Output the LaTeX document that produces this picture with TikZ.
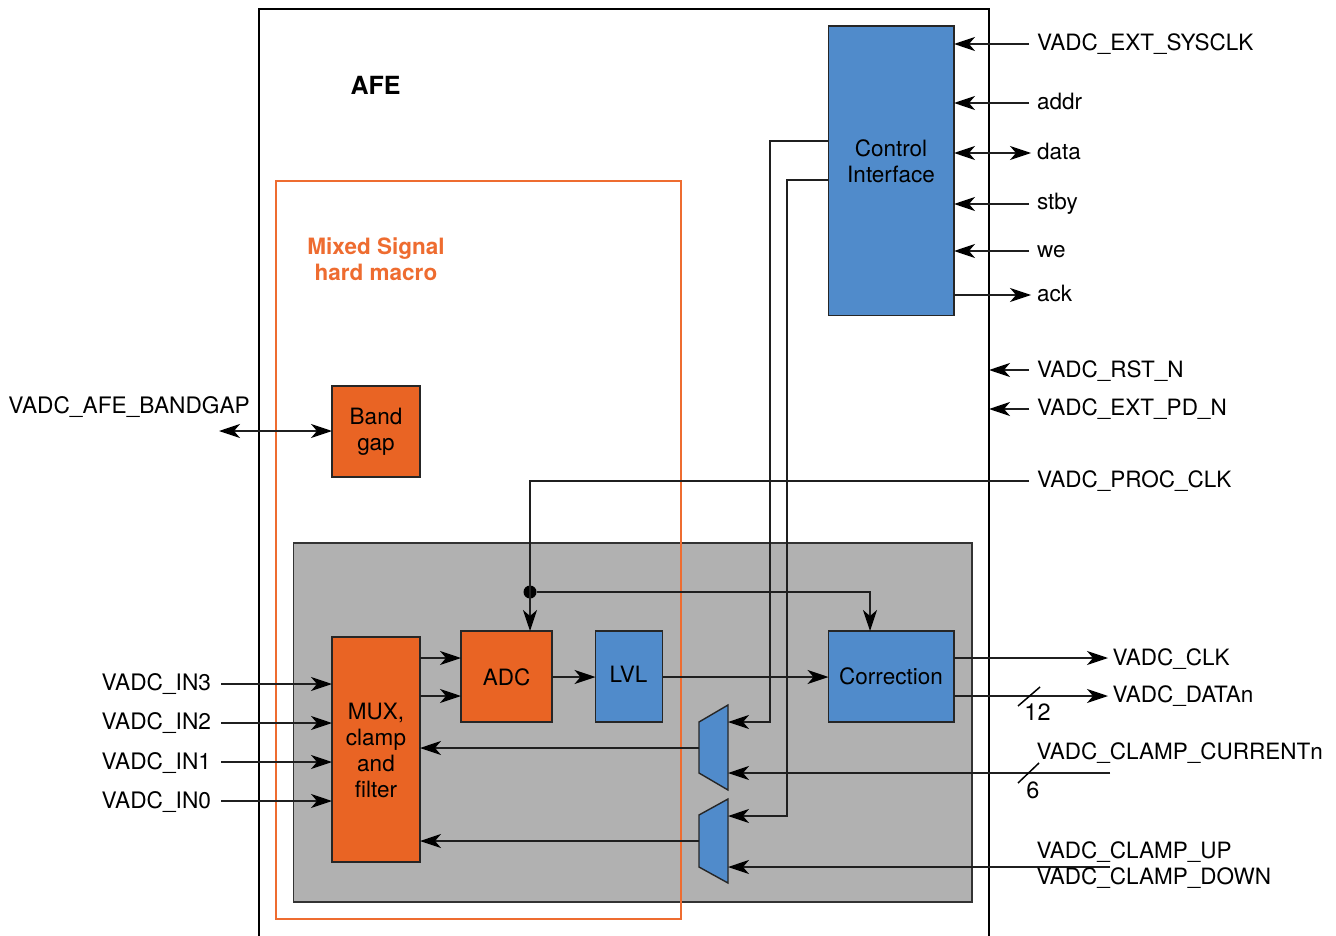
\documentclass[tikz,border=0pt]{standalone}
\usepackage{fontspec}
\setmainfont{TeX Gyre Heros}
\usetikzlibrary{arrows.meta}
\definecolor{blk}{HTML}{508BCB}
\definecolor{org}{HTML}{E96424}
\definecolor{orl}{HTML}{EE6C30}
\definecolor{gry}{HTML}{B1B1B1}
\tikzset{
  x=1pt,y=-1pt,
  every node/.style={font=\fontsize{22.5}{26}\selectfont,inner sep=0pt,outer sep=0pt},
  box/.style={draw=black!85,line width=1.4pt,align=center,anchor=north west},
  bluebox/.style={box,fill=blk},
  orangebox/.style={box,fill=org},
  lab/.style={anchor=base west},
  labr/.style={anchor=base east},
  wire/.style={draw=black!88,line width=1.3pt},
  arr/.style={wire,-{Stealth[length=21pt,width=14pt,inset=6pt,black]}},
  dbl/.style={wire,{Stealth[length=21pt,width=14pt,inset=6pt,black]}-{Stealth[length=21pt,width=14pt,inset=6pt,black]}},
  muxs/.style={draw=black!85,line width=1.4pt,fill=blk},
  anchorbox/.style={minimum width=29pt,minimum height=85pt,anchor=north west},
}
\begin{document}
\begin{tikzpicture}
\useasboundingbox (0,0) rectangle (1336,936);
% containers
\draw[black,line width=1.8pt] (259,936) -- (259,9) -- (989,9) -- (989,936);
\node[draw=black!80,line width=1.3pt,fill=gry,anchor=north west,minimum width=678.5pt,minimum height=359pt] (analog) at (293.5,543) {};
\node[draw=orl,line width=1.6pt,anchor=north west,minimum width=405pt,minimum height=738pt] (macro) at (276,181) {};
\node[font=\fontsize{25}{26}\selectfont\bfseries,anchor=center] (afe) at (375.5,85) {AFE};
\node[font=\fontsize{22.5}{26}\selectfont\bfseries,text=orl,align=center,anchor=center] (mst) at (376,259.5) {Mixed Signal\\hard macro};
% blocks
\node[bluebox,minimum width=125.5pt,minimum height=289.5pt] (ctrl) at (828.5,26) {};
\node[anchor=center,align=center] (ctrlt) at (891,161.5) {Control\\Interface};
\node[orangebox,minimum width=88pt,minimum height=91pt] (bg) at (332,386) {};
\node[anchor=center,align=center] (bgt) at (376,431.5) {Band\\gap};
\node[orangebox,minimum width=88pt,minimum height=225pt] (mx) at (332,637) {};
\node[anchor=center,align=center] (mxt) at (376,750) {MUX,\\clamp\\and\\filter};
\node[orangebox,minimum width=91pt,minimum height=91pt] (adc) at (461,631) {};
\node[anchor=center] (adct) at (506.5,677) {ADC};
\node[bluebox,minimum width=67pt,minimum height=91pt] (lvl) at (595.5,631) {};
\node[anchor=center] (lvlt) at (628.5,674) {LVL};
\node[bluebox,minimum width=125.5pt,minimum height=91pt] (cor) at (828.5,631) {};
\node[anchor=center] (cort) at (891,676.5) {Correction};
% muxes
\draw[muxs] (699,722) -- (728,705) -- (728,790) -- (699,773) -- cycle;
\draw[muxs] (699,815) -- (728,799) -- (728,883) -- (699,867) -- cycle;
\node[anchorbox] (ma) at (699,705) {};
\node[anchorbox] (mb) at (699,799) {};
% dot
\node[circle,fill=black,minimum size=13pt] (dot) at (530,592) {};
% free ends
\coordinate (eSys) at (1029,44);
\coordinate (eAddr) at (1029,103);
\coordinate (eData) at (1031,153);
\coordinate (eStby) at (1029,204);
\coordinate (eWe) at (1029,251);
\coordinate (eAck) at (1031,295);
\coordinate (eRst) at (1029,370);
\coordinate (ePd) at (1029,409);
\coordinate (ePrc) at (1029,481);
\coordinate (eClk) at (1108,658);
\coordinate (eDat) at (1108,696);
\coordinate (eCur) at (1110,773);
\coordinate (eUp) at (1110,867);
\coordinate (eBg) at (219,431);
\coordinate (i3) at (221,684);
\coordinate (i2) at (221,723);
\coordinate (i1) at (221,762);
\coordinate (i0) at (221,801);
\coordinate (wallR) at (989,0);
\coordinate (s1a) at (1018,706);
\coordinate (s1b) at (1040,687);
\coordinate (s2a) at (1018,783);
\coordinate (s2b) at (1039,763);
\coordinate (cA) at (828,141);
\coordinate (cB) at (828,180);
% connectors
\draw[arr] (eSys) -- (ctrl.east |- eSys);
\draw[arr] (eAddr) -- (ctrl.east |- eAddr);
\draw[dbl] (ctrl.east |- eData) -- (eData);
\draw[arr] (eStby) -- (ctrl.east |- eStby);
\draw[arr] (eWe) -- (ctrl.east |- eWe);
\draw[arr] (ctrl.east |- eAck) -- (eAck);
\draw[arr] (eRst) -- (wallR |- eRst);
\draw[arr] (ePd) -- (wallR |- ePd);
\draw[dbl] (eBg) -- (bg.west |- eBg);
\draw[arr] (i3) -- (mx.west |- i3);
\draw[arr] (i2) -- (mx.west |- i2);
\draw[arr] (i1) -- (mx.west |- i1);
\draw[arr] (i0) -- (mx.west |- i0);
\draw[arr] (ePrc) -- (dot |- ePrc) -- (dot |- adc.north);
\draw[arr] (dot) -- (870,592) -- (870,631);
\draw[arr] (mx.east |- 0,658) -- (adc.west |- 0,658);
\draw[arr] (mx.east |- 0,696) -- (adc.west |- 0,696);
\draw[arr] (adc.east |- 0,677) -- (lvl.west |- 0,677);
\draw[arr] (lvl.east |- 0,677) -- (cor.west |- 0,677);
\draw[arr] (cor.east |- eClk) -- (eClk);
\draw[arr] (cor.east |- eDat) -- (eDat);
\draw[arr] (ma.west |- 0,748) -- (mx.east |- 0,748);
\draw[arr] (mb.west |- 0,841) -- (mx.east |- 0,841);
\draw[arr] (eCur) -- (ma.east |- eCur);
\draw[arr] (eUp) -- (mb.east |- eUp);
\draw[arr] (cA) -- (770,141) -- (770,722) -- (ma.east |- 0,722);
\draw[arr] (cB) -- (787,180) -- (787,816) -- (mb.east |- 0,816);
\draw[wire,black,line width=1.5pt] (s1a) -- (s1b);
\draw[wire,black,line width=1.5pt] (s2a) -- (s2b);
% labels
\node[lab] (l1) at (1037,51) {VADC\_EXT\_SYSCLK};
\node[lab] (l2) at (1037,110) {addr};
\node[lab] (l3) at (1037,160) {data};
\node[lab] (l4) at (1037,210) {stby};
\node[lab] (l5) at (1037,258) {we};
\node[lab] (l6) at (1037,301) {ack};
\node[lab] (l7) at (1037,377) {VADC\_RST\_N};
\node[lab] (l8) at (1037,415.5) {VADC\_EXT\_PD\_N};
\node[lab] (l9) at (1037,487) {VADC\_PROC\_CLK};
\node[lab] (l10) at (1112.5,665) {VADC\_CLK};
\node[lab] (l11) at (1112.5,702) {VADC\_DATAn};
\node[lab] (l12) at (1036.5,759) {VADC\_CLAMP\_CURRENTn};
\node[lab] (l13) at (1036.5,858) {VADC\_CLAMP\_UP};
\node[lab] (l14) at (1036.5,884) {VADC\_CLAMP\_DOWN};
\node[font=\fontsize{22.7}{26}\selectfont,lab] (l15) at (8.5,413) {VADC\_AFE\_BANDGAP};
\node[labr,font=\fontsize{22.7}{26}\selectfont] (l16) at (211,690) {VADC\_IN3};
\node[labr,font=\fontsize{22.7}{26}\selectfont] (l17) at (211,729) {VADC\_IN2};
\node[labr,font=\fontsize{22.7}{26}\selectfont] (l18) at (211,769) {VADC\_IN1};
\node[labr,font=\fontsize{22.7}{26}\selectfont] (l19) at (211,808) {VADC\_IN0};
\node[anchor=center,font=\fontsize{23.5}{26}\selectfont] (n12) at (1037.5,712) {12};
\node[anchor=center,font=\fontsize{23.5}{26}\selectfont] (n6) at (1033,790) {6};
\end{tikzpicture}
\end{document}
